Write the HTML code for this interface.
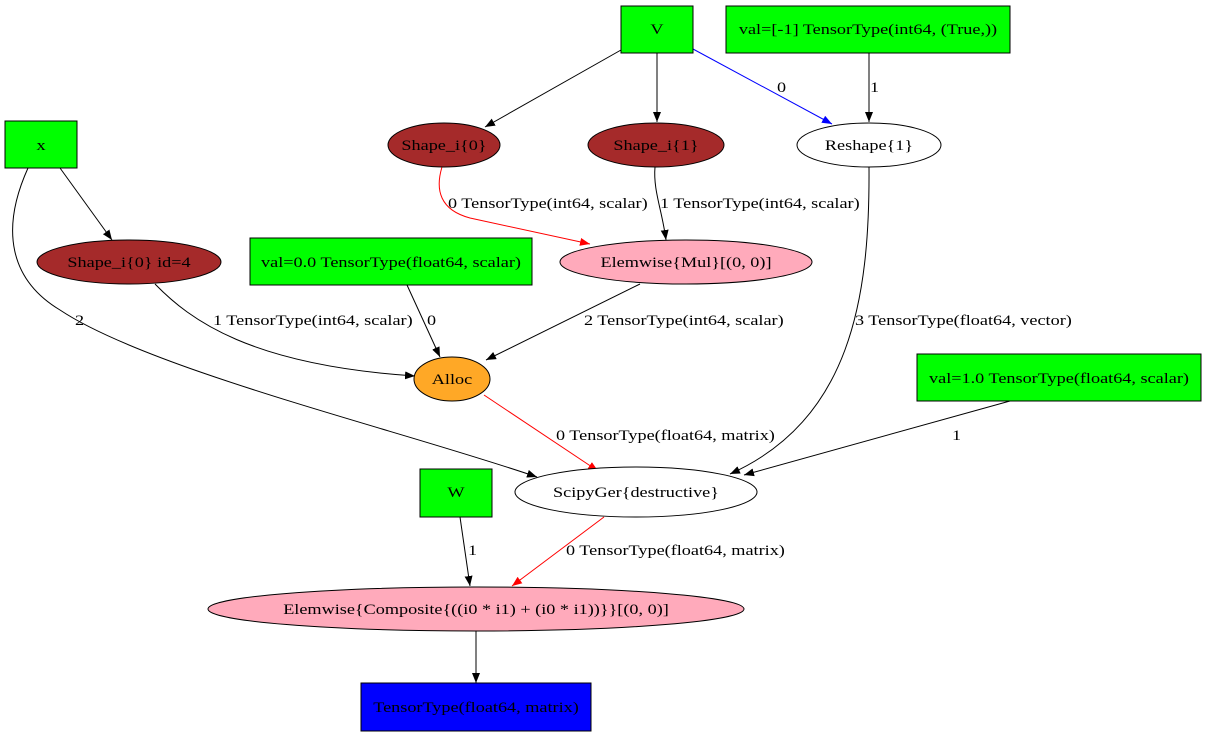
<!DOCTYPE html>
<html><head><meta charset="utf-8"><style>
html,body{margin:0;padding:0;background:#fff;}
svg text{font-family:"Liberation Serif",serif;font-size:14px;fill:#000;}
</style></head><body>
<svg width="1208" height="736" viewBox="0 0 1208 736" xmlns="http://www.w3.org/2000/svg">
<defs>
<marker id="ak" markerWidth="10" markerHeight="8" refX="10" refY="4" orient="auto" markerUnits="userSpaceOnUse"><path d="M0,0 L10,4 L0,8 z" fill="#000"/></marker>
<marker id="ar" markerWidth="10" markerHeight="8" refX="10" refY="4" orient="auto" markerUnits="userSpaceOnUse"><path d="M0,0 L10,4 L0,8 z" fill="#f00"/></marker>
<marker id="ab" markerWidth="10" markerHeight="8" refX="10" refY="4" orient="auto" markerUnits="userSpaceOnUse"><path d="M0,0 L10,4 L0,8 z" fill="#00f"/></marker>
</defs>
<g fill="none" stroke="#000" stroke-width="1">
<path d="M621,50 L485,127" marker-end="url(#ak)"/>
<path d="M657,53 L657,122" marker-end="url(#ak)"/>
<path d="M693,49 L832,124" stroke="#00f" marker-end="url(#ab)"/>
<path d="M869,53 L869,122" marker-end="url(#ak)"/>
<path d="M60,168 L112,240" marker-end="url(#ak)"/>
<path d="M28,168 C0,230 10,280 60,310 C150,370 400,430 537,477" marker-end="url(#ak)"/>
<path d="M442,167 C435,190 440,210 470,218 L590,244" stroke="#f00" marker-end="url(#ar)"/>
<path d="M655,167 C653,190 662,210 666,240" marker-end="url(#ak)"/>
<path d="M869,167 C870,300 850,420 730,474" marker-end="url(#ak)"/>
<path d="M155,284 C190,320 250,365 415,376" marker-end="url(#ak)"/>
<path d="M407,285 L440,357" marker-end="url(#ak)"/>
<path d="M640,284 L486,360" marker-end="url(#ak)"/>
<path d="M484,395 L598,471" stroke="#f00" marker-end="url(#ar)"/>
<path d="M1010,401 L744,475" marker-end="url(#ak)"/>
<path d="M460,517 L470,586" marker-end="url(#ak)"/>
<path d="M604,517 L512,586" stroke="#f00" marker-end="url(#ar)"/>
<path d="M476,631 L476,683" marker-end="url(#ak)"/>
</g>
<g stroke="#000" stroke-width="1">
<rect x="621" y="6" width="72" height="47" fill="#00ff00"/>
<rect x="726" y="6" width="284" height="47" fill="#00ff00"/>
<rect x="5" y="121" width="72" height="47" fill="#00ff00"/>
<ellipse cx="444" cy="145" rx="56" ry="22" fill="#a52a2a"/>
<ellipse cx="656" cy="145" rx="68" ry="22" fill="#a52a2a"/>
<ellipse cx="869" cy="145" rx="72" ry="22" fill="#fff"/>
<ellipse cx="129" cy="262" rx="92" ry="22" fill="#a52a2a"/>
<rect x="250" y="238" width="282" height="47" fill="#00ff00"/>
<ellipse cx="686" cy="262" rx="126" ry="22" fill="#ffaabb"/>
<ellipse cx="452" cy="379" rx="38" ry="22" fill="#ffa826"/>
<rect x="917" y="354" width="284" height="47" fill="#00ff00"/>
<ellipse cx="636" cy="492" rx="121" ry="25" fill="#fff"/>
<rect x="420" y="469" width="72" height="48" fill="#00ff00"/>
<ellipse cx="476" cy="609" rx="268" ry="22" fill="#ffaabb"/>
<rect x="361" y="683" width="230" height="48" fill="#0000ff"/>
</g>
<g text-anchor="middle">
<text transform="translate(657,34) scale(1.3,1.05)">V</text>
<text transform="translate(868,34) scale(1.3,1.05)">val=[-1] TensorType(int64, (True,))</text>
<text transform="translate(41,150) scale(1.3,1.05)">x</text>
<text transform="translate(444,150) scale(1.3,1.05)">Shape_i{0}</text>
<text transform="translate(656,150) scale(1.3,1.05)">Shape_i{1}</text>
<text transform="translate(869,150) scale(1.3,1.05)">Reshape{1}</text>
<text transform="translate(129,267) scale(1.3,1.05)">Shape_i{0} id=4</text>
<text transform="translate(391,267) scale(1.3,1.05)">val=0.0 TensorType(float64, scalar)</text>
<text transform="translate(686,267) scale(1.3,1.05)">Elemwise{Mul}[(0, 0)]</text>
<text transform="translate(452,384) scale(1.3,1.05)">Alloc</text>
<text transform="translate(1059,383) scale(1.3,1.05)">val=1.0 TensorType(float64, scalar)</text>
<text transform="translate(636,497) scale(1.3,1.05)">ScipyGer{destructive}</text>
<text transform="translate(456,497) scale(1.3,1.05)">W</text>
<text transform="translate(476,614) scale(1.3,1.05)">Elemwise{Composite{((i0 * i1) + (i0 * i1))}}[(0, 0)]</text>
<text transform="translate(476,712) scale(1.3,1.05)">TensorType(float64, matrix)</text>
</g>
<g>
<text transform="translate(777,92) scale(1.3,1.05)">0</text>
<text transform="translate(870,92) scale(1.3,1.05)">1</text>
<text transform="translate(75,325) scale(1.3,1.05)">2</text>
<text transform="translate(448,208) scale(1.3,1.05)">0 TensorType(int64, scalar)</text>
<text transform="translate(660,208) scale(1.3,1.05)">1 TensorType(int64, scalar)</text>
<text transform="translate(855,325) scale(1.3,1.05)">3 TensorType(float64, vector)</text>
<text transform="translate(213,325) scale(1.3,1.05)">1 TensorType(int64, scalar)</text>
<text transform="translate(427,325) scale(1.3,1.05)">0</text>
<text transform="translate(584,325) scale(1.3,1.05)">2 TensorType(int64, scalar)</text>
<text transform="translate(556,440) scale(1.3,1.05)">0 TensorType(float64, matrix)</text>
<text transform="translate(952,440) scale(1.3,1.05)">1</text>
<text transform="translate(468,555) scale(1.3,1.05)">1</text>
<text transform="translate(566,555) scale(1.3,1.05)">0 TensorType(float64, matrix)</text>
</g>
</svg>
</body></html>
